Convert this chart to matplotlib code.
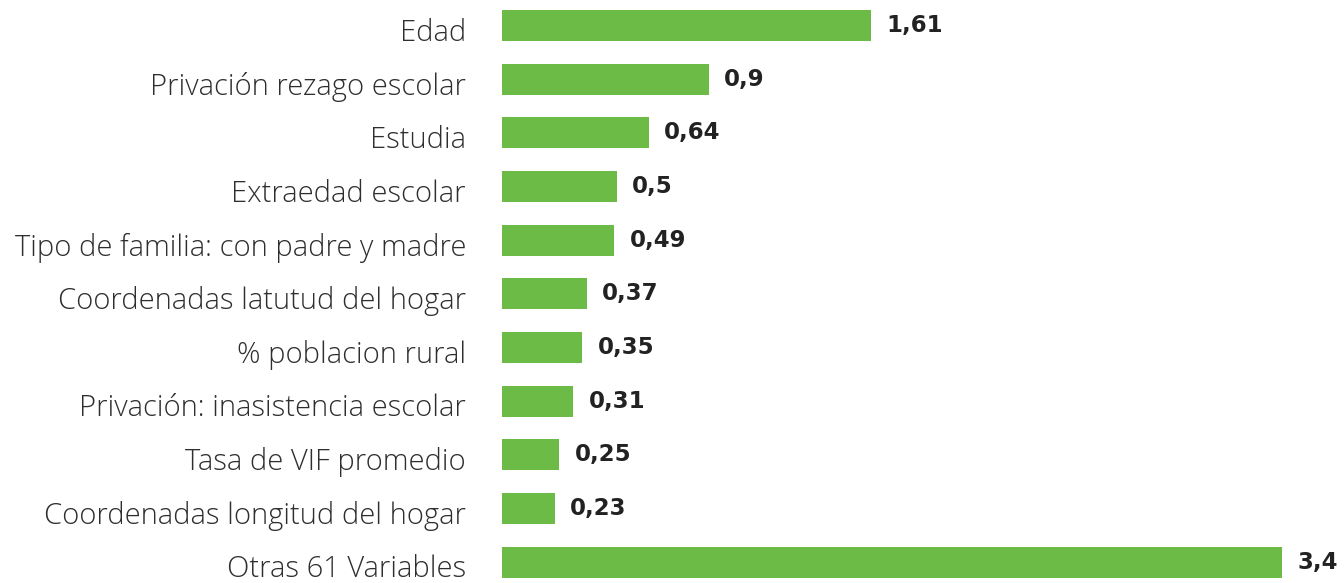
import matplotlib.pyplot as plt
from matplotlib.transforms import ScaledTranslation

variables = [
    "Edad",
    "Privación rezago escolar",
    "Estudia",
    "Extraedad escolar",
    "Tipo de familia: con padre y madre",
    "Coordenadas latutud del hogar",
    "% poblacion rural",
    "Privación: inasistencia escolar",
    "Tasa de VIF promedio",
    "Coordenadas longitud del hogar",
    "Otras 61 Variables",
]
importancia = [1.61, 0.9, 0.64, 0.5, 0.49, 0.37, 0.35, 0.31, 0.25, 0.23, 3.4]
etiquetas = ["1,61", "0,9", "0,64", "0,5", "0,49", "0,37", "0,35", "0,31", "0,25", "0,23", "3,4"]

verde = "#6cbb47"

fig = plt.figure(figsize=(13.44, 5.83), dpi=100)
ax = fig.add_axes([502 / 1344, 0, 842 / 1344, 1])

pos = list(range(len(variables)))
barras = ax.barh(pos, importancia, height=0.58, color=verde)
textos = ax.bar_label(barras, labels=etiquetas, padding=11, fontsize=16.5,
                      fontweight="bold", color="#222222", family="DejaVu Sans")
bajar_valor = ScaledTranslation(0, -2 / 100, fig.dpi_scale_trans)
for t in textos:
    t.set_transform(t.get_transform() + bajar_valor)

ax.set_yticks(pos)
ax.set_yticklabels(variables, fontsize=21, color="#2e2e2e",
                   family="Open Sans", fontweight="light")
ax.tick_params(axis="y", length=0, pad=26)
bajar = ScaledTranslation(0, -4 / 100, fig.dpi_scale_trans)
for lab in ax.get_yticklabels():
    lab.set_transform(lab.get_transform() + bajar)
ax.set_xticks([])
ax.set_xlim(0, 842 / 229.5)
ax.set_ylim(10.39, -0.475)
for s in ax.spines.values():
    s.set_visible(False)

fig.savefig("out.png", dpi=100)
